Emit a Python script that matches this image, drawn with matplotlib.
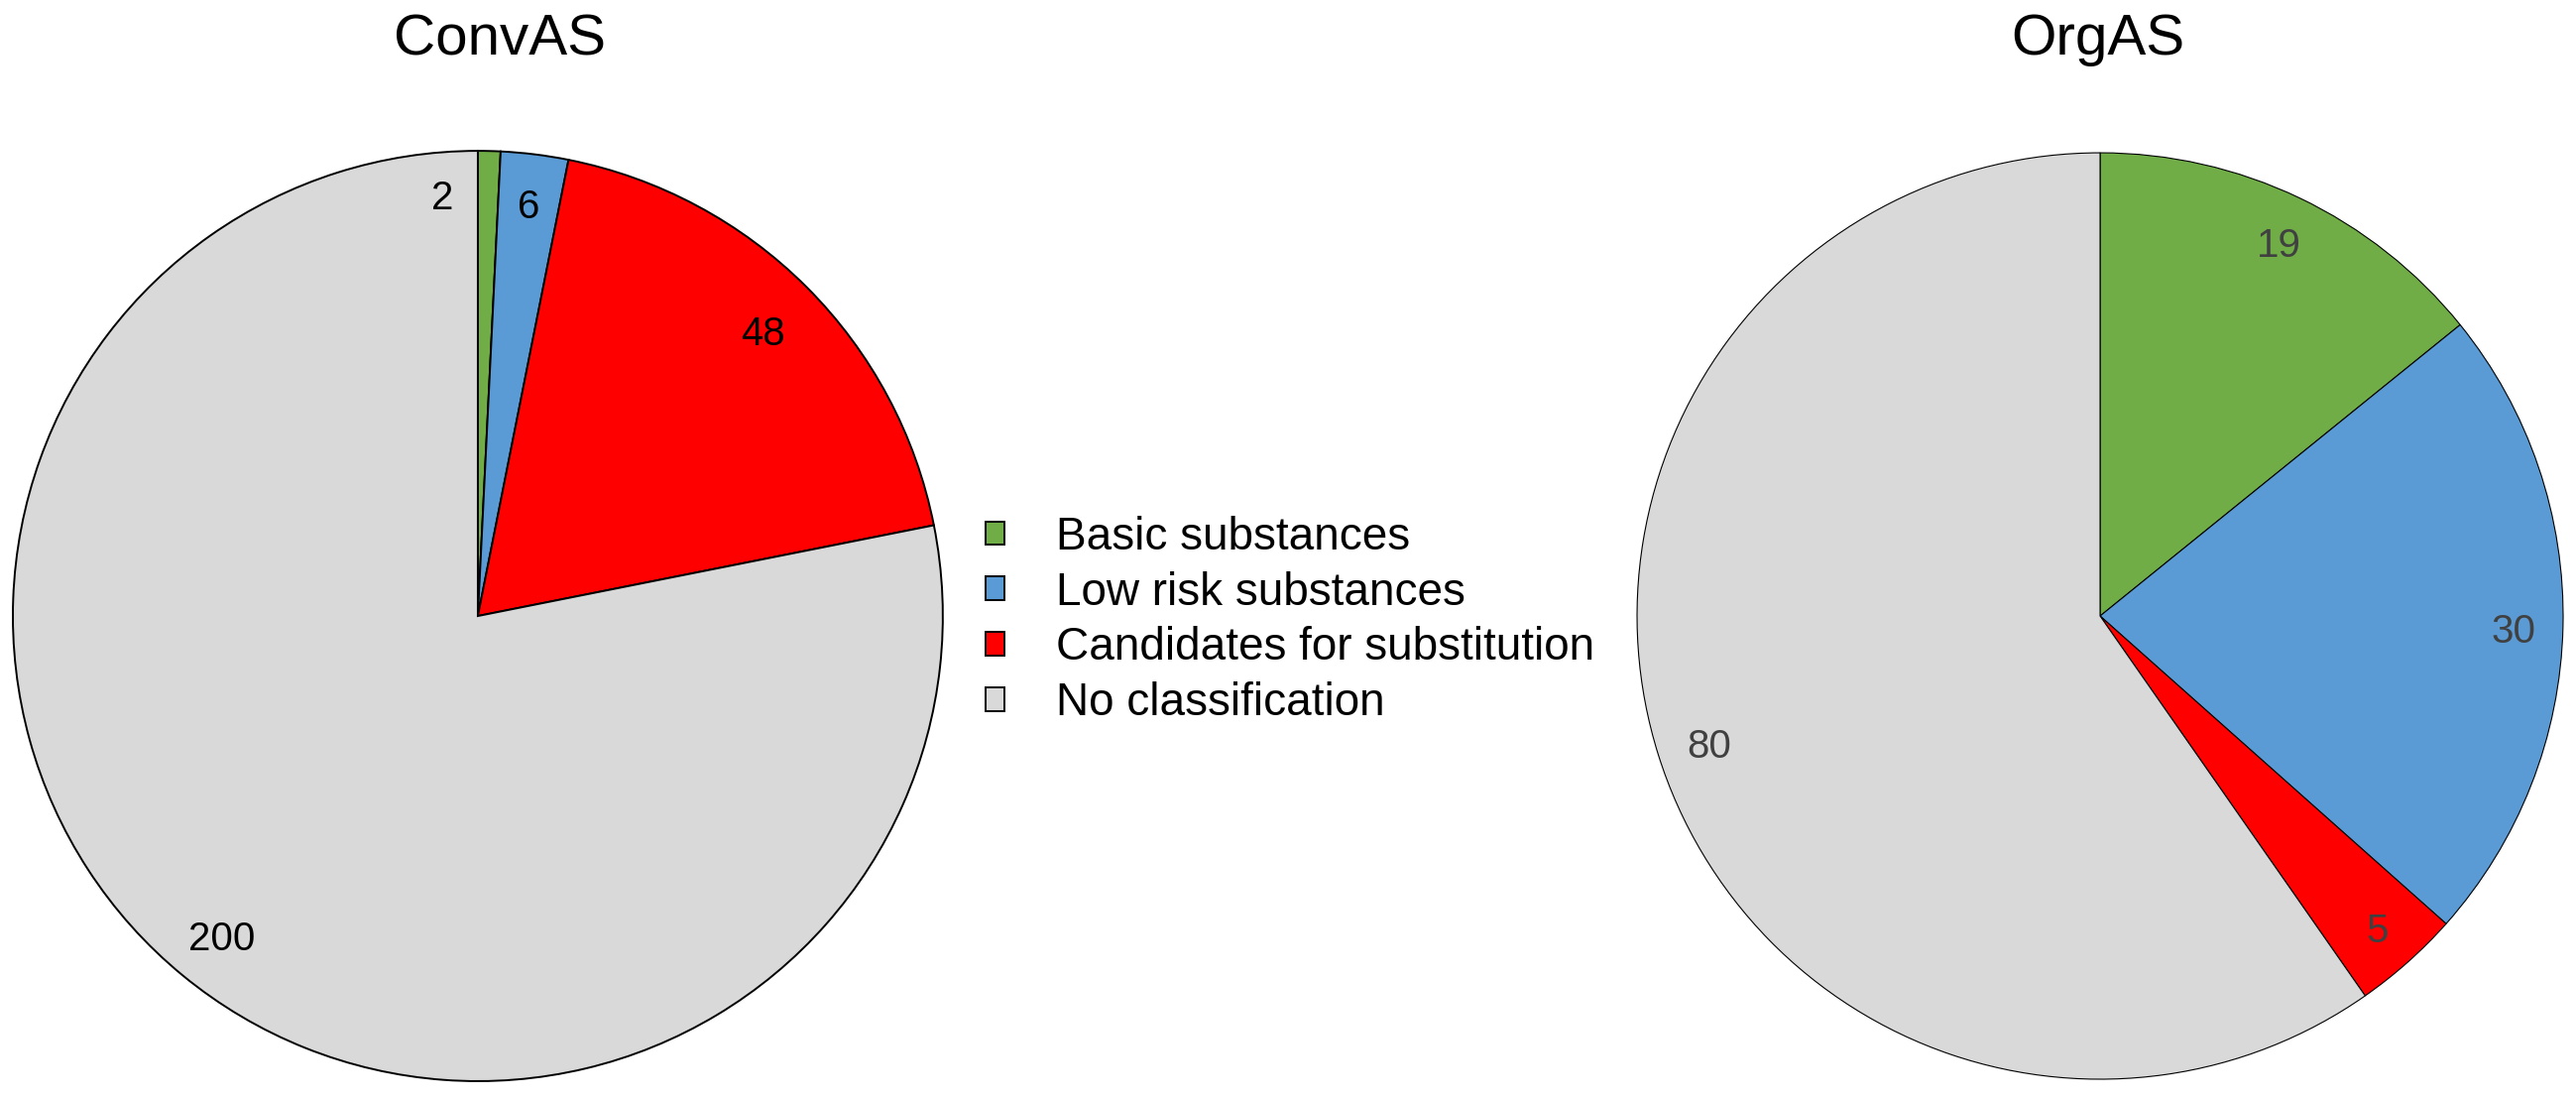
import numpy as np
import matplotlib
matplotlib.use("Agg")
import matplotlib.pyplot as plt

plt.rcParams['font.family'] = ['Liberation Sans', 'DejaVu Sans']

categories = ["Basic substances", "Low risk substances",
              "Candidates for substitution", "No classification"]
conv_values = [2, 6, 48, 200]
org_values = [19, 30, 5, 80]
titles = ["ConvAS", "OrgAS"]
colors = ["#70AD47", "#5B9BD5", "#FF0000", "#D9D9D9"]

fig = plt.figure(figsize=(25.98, 11.09), dpi=100)

ax1 = fig.add_axes([0.005, 0.0171, 0.361, 0.8458])
ax2 = fig.add_axes([0.6355, 0.0189, 0.3595, 0.8422])


def draw_pie(ax, values, txtcolor, lw, tweaks):
    wedges, _ = ax.pie(values, colors=colors, startangle=90, counterclock=False,
                       wedgeprops=dict(edgecolor="black", linewidth=lw))
    for i, (w, v) in enumerate(zip(wedges, values)):
        mid = (w.theta1 + w.theta2) / 2
        r, dang = tweaks.get(i, (0.88, 0))
        a = np.deg2rad(mid + dang)
        # baseline placed half a cap height below the label centre
        ax.text(r * np.cos(a), r * np.sin(a) - 0.031, str(v), ha="center",
                va="baseline", fontsize=29, color=txtcolor)
    ax.set_xlim(-1, 1)
    ax.set_ylim(-1, 1)
    ax.set_aspect("equal")
    ax.axis("off")
    return wedges


wedges = draw_pie(ax1, conv_values, "black", 1.4,
                  {0: (0.908, 6.2), 1: (0.892, 0), 2: (0.868, 0), 3: (0.881, 0.7)})
draw_pie(ax2, org_values, "#404040", 0.8,
         {0: (0.894, 0), 1: (0.893, -0.4), 2: (0.90, 0), 3: (0.889, 0.6)})

fig.text(504 / 2598, 1 - 55 / 1109, titles[0], ha="center", va="baseline", fontsize=42)
fig.text(2116 / 2598, 1 - 55 / 1109, titles[1], ha="center", va="baseline", fontsize=42)

fig.legend(wedges, categories, loc="center left",
           bbox_to_anchor=(0.3826, 0.436), frameon=False, fontsize=33,
           borderpad=0, borderaxespad=0, handlelength=0.41, handleheight=0.41,
           handletextpad=1.13, labelspacing=0.26)

fig.savefig("out.png", dpi=100)
